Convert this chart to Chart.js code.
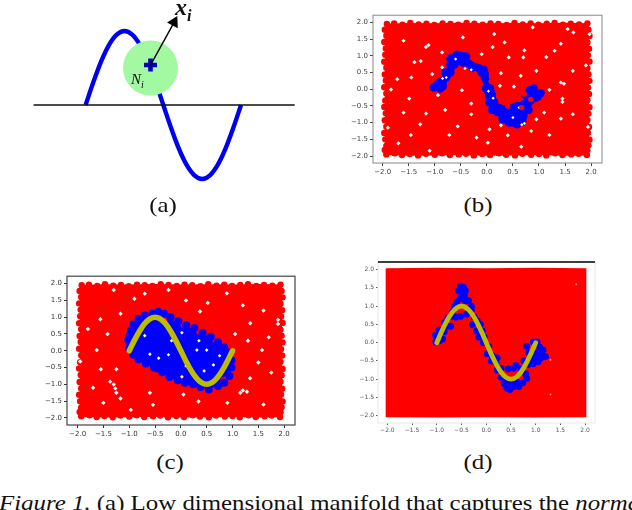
<!DOCTYPE html>
<html><head><meta charset="utf-8">
<script src="https://cdn.jsdelivr.net/npm/chart.js@4"></script>
<style>
html,body{margin:0;padding:0;background:#fff;width:632px;height:510px;overflow:hidden}
canvas{position:absolute}
.plot{filter:blur(.45px)}
.t{position:absolute;font-family:"Liberation Serif",serif;color:#111;white-space:nowrap;line-height:1}
.cap{font-size:22px;transform:translateX(-50%) scaleX(1.13)}
sub{font-size:.68em;line-height:0}
</style></head><body>
<canvas id="pa" class="plot" width="316" height="200" style="left:0;top:0"></canvas>
<canvas id="pb" class="plot"></canvas>
<canvas id="pc" class="plot"></canvas>
<canvas id="pd" class="plot"></canvas>
<div class="t" style="left:175px;top:-5px;font-size:24px;font-weight:bold;font-style:italic">x<sub>i</sub></div>
<div class="t" style="left:131px;top:72px;font-size:15px;font-style:italic">N<sub>i</sub></div>
<div class="t cap" style="left:163px;top:194px">(a)</div>
<div class="t cap" style="left:478px;top:194px">(b)</div>
<div class="t cap" style="left:170px;top:451px">(c)</div>
<div class="t cap" style="left:478px;top:451px">(d)</div>
<div class="t" style="left:-1px;top:492px;font-size:22px;transform:scaleX(1.13);transform-origin:0 0"><i>Figure 1.</i> (a) Low dimensional manifold that captures the <i>normal</i></div>
<script>
const tickValues=[-2,-1.5,-1,-0.5,0,0.5,1,1.5,2];
const tickLabels=["−2.0","−1.5","−1.0","−0.5","0.0","0.5","1.0","1.5","2.0"];
const manifold=[[-1,0],[-.9,.31],[-.8,.59],[-.7,.81],[-.6,.95],[-.5,1],[-.4,.95],[-.3,.81],[-.2,.59],[-.1,.31],[0,0],[.1,-.31],[.2,-.59],[.3,-.81],[.4,-.95],[.5,-1],[.6,-.95],[.7,-.81],[.8,-.59],[.9,-.31],[1,0]];
const baseline=[[-1.664,0],[1.685,0]];
const neighbourhood=[[-.165,.5]];
const sample=[[-.165,.54]];
const arrowShaft=[[-.165,.54],[.13,1.1]];
const arrowHead=[[.138,1.119]];
const redTop=[[-1.96,1.96],[-1.5,1.98],[-1,1.97],[-.5,1.99],[0,1.97],[.5,1.98],[1,1.97],[1.5,1.99],[1.96,1.97]];
const redBottom=[[-1.96,-1.97],[-1.5,-1.99],[-1,-1.98],[-.5,-1.97],[0,-1.99],[.5,-1.98],[1,-1.97],[1.5,-1.99],[1.96,-1.98]];
const redTopD=[[-2.04,2.04],[-1,2.05],[0,2.04],[1,2.05],[2.03,2.04]];
const redBottomD=[[-2.04,-2.04],[-1,-2.05],[0,-2.04],[1,-2.05],[2.03,-2.04]];
const redEdge=[[-1.92,1.95],[-1.78,1.97],[-1.62,1.93],[-1.47,1.98],[-1.31,1.94],[-1.16,1.96],[-1.01,1.92],[-.85,1.97],[-.7,1.95],[-.55,1.93],[-.39,1.98],[-.24,1.96],[-.08,1.93],[.07,1.97],[.22,1.95],[.38,1.92],[.53,1.98],[.69,1.94],[.84,1.97],[.99,1.93],[1.15,1.96],[1.3,1.98],[1.46,1.93],[1.61,1.96],[1.77,1.94],[1.93,1.97],
[-1.93,-1.95],[-1.77,-1.92],[-1.63,-1.97],[-1.48,-1.94],[-1.32,-1.98],[-1.17,-1.93],[-1,-1.96],[-.86,-1.92],[-.71,-1.97],[-.54,-1.95],[-.4,-1.93],[-.25,-1.98],[-.09,-1.94],[.06,-1.97],[.23,-1.92],[.37,-1.96],[.54,-1.98],[.68,-1.93],[.85,-1.96],[1,-1.94],[1.14,-1.98],[1.31,-1.92],[1.45,-1.97],[1.62,-1.95],[1.76,-1.93],[1.92,-1.97],
[-1.96,1.78],[-1.93,1.6],[-1.97,1.41],[-1.94,1.22],[-1.95,1.03],[-1.97,.82],[-1.93,.64],[-1.96,.44],[-1.94,.26],[-1.97,.06],[-1.93,-.13],[-1.95,-.34],[-1.97,-.53],[-1.94,-.72],[-1.96,-.93],[-1.93,-1.12],[-1.97,-1.31],[-1.95,-1.5],[-1.93,-1.69],[-1.96,-1.82],
[1.95,1.78],[1.97,1.59],[1.93,1.4],[1.96,1.21],[1.94,1.02],[1.97,.83],[1.93,.63],[1.95,.45],[1.97,.25],[1.94,.05],[1.96,-.14],[1.93,-.33],[1.97,-.54],[1.95,-.73],[1.93,-.92],[1.96,-1.13],[1.94,-1.3],[1.97,-1.51],[1.95,-1.68],[1.93,-1.83]];
const blueB=[[-1.02,.05],[-.96,.12],[-.9,.02],[-.85,.08],[-.92,.2],[-.84,.25],[-.78,.36],[-.74,.48],[-.8,.5],[-.7,.62],[-.7,.75],[-.66,.86],[-.62,.95],[-.58,1.03],[-.52,1.02],[-.46,.98],[-.42,.9],[-.55,.85],[-.46,.8],[-.62,.74],[-.36,.78],[-.3,.72],[-.22,.66],[-.14,.62],[-.06,.58],[-.28,.65],[-.04,.46],[-.1,.5],[-.04,.34],[0,.22],[.02,.1],[-.02,.02],[.06,.03],[.03,-.08],[.1,-.12],[.04,-.22],[.1,-.28],[.14,-.38],[.05,-.4],[.16,-.5],[.24,-.56],[.2,-.68],[.28,-.72],[.34,-.78],[.38,-.9],[.46,-.88],[.5,-1],[.54,-.88],[.62,-.98],[.68,-.96],[.58,-.72],[.66,-.72],[.72,-.68],[.5,-.55],[.58,-.5],[.7,-.45],[.78,-.5],[.82,-.36],[.75,-.2],[.84,-.18],[.82,-.02],[.9,.02],[.92,-.14],[.98,-.22],[.9,-.32],[1.03,-.12],[.34,-.6],[.44,-.72],[.7,-.82],[.8,-.62],[.62,-.84],[-.5,.88],[-.7,.5],[-.85,.15],[.1,-.62],[-.62,.85],[-.4,.98],[-.7,.92],[.42,-1],[.58,-1.05],[.3,-.9]];
const holesOnBlueB=[[-.42,.62],[-.3,.58],[-.78,.35],[-.85,.32],[.03,-.06],[.62,-.55],[.67,-1.06],[.5,-.85],[.72,-1.02],[-.6,.9],[.12,-.27]];
const redOnBlueB=[[.2,-.05],[.67,-.55],[.84,-.3],[.08,.23],[.4,-.5],[.72,-.15],[.95,-.45]];
const blueCoreC=[[-.75,.6],[-.5,.7],[-.2,.55],[.1,.35],[.4,.15],[.65,-.1],[.75,-.45],[.55,-.75],[.25,-.7],[-.1,-.5],[-.4,-.3],[-.7,0],[-.55,.25],[-.25,.15],[.05,-.05],[.3,-.3],[-.85,.35],[.5,-.35]];
const blueEdgeC=[[-1.02,.32],[-.96,.62],[-.92,.78],[-.82,.95],[-.7,1.05],[-.55,1.12],[-.44,1.16],[-.32,1.1],[-.2,1],[-.05,.88],[.1,.76],[.26,.68],[.42,.54],[.58,.42],[.72,.25],[.84,.1],[.92,-.05],[.98,-.28],[.98,-.5],[.94,-.75],[.84,-.95],[.72,-1.05],[.54,-1.15],[.38,-1.08],[.24,-1],[.08,-.95],[-.06,-.88],[-.22,-.78],[-.36,-.64],[-.52,-.5],[-.68,-.38],[-.82,-.25],[-.92,-.12],[-1,.06]];
const holesOnBlueC=[[.02,.54],[.5,.02],[-.24,-.12],[.63,-.42],[.02,-.77],[-.43,-.22],[.31,.02],[-.6,-.1],[-.18,.3],[.35,.3],[.1,-.45],[-.7,.45],[.75,-.15],[.45,-.6]];
const blueD=[[-1.03,.2],[-1.02,.02],[-.95,.05],[-.92,.28],[-.85,.3],[-.88,.1],[-.78,.45],[-.85,.55],[-.72,.72],[-.78,.68],[-.68,.85],[-.64,1],[-.6,1.1],[-.54,1.2],[-.5,1.35],[-.46,1.52],[-.52,1.55],[-.44,1.3],[-.42,1.15],[-.36,1.15],[-.3,1],[-.3,.9],[-.52,.72],[-.62,.7],[-.24,.7],[-.18,.6],[-.12,.5],[-.2,.32],[-.08,.32],[-.15,.15],[-.04,.15],[-.06,0],[.05,-.1],[.02,-.3],[.12,-.35],[.1,-.5],[.2,-.55],[.22,-.75],[.3,-.7],[.3,-.95],[.36,-1.12],[.42,-1.25],[.48,-1.28],[.56,-1.2],[.66,-1.2],[.74,-1.1],[.44,-.72],[.55,-.7],[.7,-.72],[.8,-.85],[.85,-.6],[.76,-.5],[.9,-.5],[.86,-.28],[.98,-.42],[.82,-.1],[.95,.02],[1.03,.02],[1.08,-.12],[1.12,-.3],[1.1,-.42],[1.02,-.28],[-.5,1.2],[.5,-1.1],[-.56,1.42],[-.42,1.42],[-.6,.98],[-.4,.78],[-.96,.35],[-.72,.45],[.6,-.62],[.42,-1.02],[.62,-1.08],[.82,-.98],[1.15,-.2],[1.2,-.38],[1.05,-.52],[.95,-.58],[-.28,.5],[.22,-.42]];
const holesB=[[-1.17,1.26],[-.86,1.1],[-1.39,.81],[-1.27,.84],[-1.84,-.01],[-1.49,-.28],[-.48,-.03],[-.94,-.18],[-.3,-.43],[-1.17,-.73],[-1.9,-1.15],[-1.46,-1.37],[-.56,-1.11],[-.72,-1.37],[-1.7,-1.62],[-1.1,-1.84],[.02,-1.6],[.27,-1.08],[.66,-1.72],[1.2,-1.37],[1.42,-.88],[1.94,-1.13],[1.45,-.28],[1.45,-.38],[1.2,-.02],[1.42,.2],[1.48,.16],[.27,.48],[.34,1.4],[.14,1.65],[-.46,1.55],[.72,1.16],[1.42,1.36],[1.66,1.7],[1.55,1.8],[1.14,.96],[1.9,.71],[1.97,1.65],[.88,1.85],[.11,1.26],[-1.6,1.45],[-1.05,.45],[-1.6,-.7],[.7,.95],[.95,.55],[1.65,-.75],[-.2,-1.45],[-.86,.65],[-1.12,1.32],[-.1,1.05],[.42,.95],[.65,.4],[.52,.08],[.25,.1],[-.3,-.75],[-.8,-.62],[.95,-.9],[1.1,-.7],[.4,-1.38],[.85,-1.25],[-1.45,.35],[-1.72,.3],[1.65,.55],[1.3,1.15],[.05,-1.2],[-1.28,-1.05]];
const holesC=[[-1.17,1.1],[-1.56,.94],[-1.8,.65],[-1.63,.02],[-1.95,-.32],[-1.27,-1.12],[-1.17,-1.42],[-1.37,-.92],[-.97,-1.76],[-.54,-1.61],[.34,-1.51],[1.15,-1.25],[1.28,-1.22],[1.34,-.82],[1.88,.92],[1.88,.8],[1.57,.02],[-1.3,1.81],[-.24,1.81],[.89,1.71],[1.34,.82],[.37,1.17],[.52,1.42],[-1.55,-.55],[-1.25,-.55],[1.6,-1.6],[.9,-1.55],[1.7,.4],[1.05,.5],[-1.25,-1.25],[-1.3,-1],[1.2,-1.18],[-1.42,.5],[-.9,1.55],[.1,1.5],[1.2,1.35],[1.6,1.2],[-1.7,-1.1],[-.6,-1.25],[.05,-1.3],[1.5,-.35],[1.75,-.65],[-1.5,-1.55],[1.3,.3],[-.7,1.7]];
const holesD=[[1.3,-.47],[1.3,-1.42],[1.82,1.6]];

const pts=a=>a.map(([x,y])=>({x,y}));
const dot=(data,color,radius,order,style)=>({data:pts(data),backgroundColor:color,borderColor:color,borderWidth:0,pointRadius:radius,pointStyle:style||'circle',showLine:false,order});
const curve=(data,color,width,order)=>({data:pts(data),borderColor:color,borderWidth:width,pointRadius:0,showLine:true,tension:.35,borderCapStyle:'round',order});
const band=(data,fill)=>({data:pts(data),borderWidth:0,pointRadius:0,showLine:true,fill,backgroundColor:'#ff0000',order:20});

new Chart(document.getElementById('pa'),{type:'scatter',data:{datasets:[
  {...curve(manifold,'#0000f0',4.4,6),borderCapStyle:'butt'},
  {...curve(baseline,'#111',1.3,5),tension:0},
  dot(neighbourhood,'#a2f9a2',27.5,4),
  {...curve(arrowShaft,'#000',1.4,2),tension:0},
  {data:pts(arrowHead),backgroundColor:'#000',borderWidth:0,pointStyle:'triangle',pointRotation:28,pointRadius:7,showLine:false,order:1},
  {data:pts(sample),borderColor:'#0000b8',backgroundColor:'#0000b8',borderWidth:4.6,pointStyle:'cross',pointRadius:6.5,showLine:false,order:3}
]},options:{responsive:false,animation:false,events:[],layout:{padding:0,autoPadding:false},plugins:{legend:{display:false},tooltip:{enabled:false}},
  scales:{x:{type:'linear',display:false,min:-2.102,max:1.965},y:{type:'linear',display:false,min:-1.284,max:1.419}}}});

const frame={id:'frame',afterDraw(c,_,o){const a=c.chartArea,g=c.ctx;g.save();
  if(o.mode==='box'){g.strokeStyle=o.color;g.lineWidth=o.width;g.strokeRect(a.left,a.top,a.width,a.height);}
  else{g.strokeStyle='#ececec';g.lineWidth=1.2;g.strokeRect(a.left,a.top,a.width,a.height);g.strokeStyle='#000';g.lineWidth=1.6;g.beginPath();g.moveTo(a.left,a.top);g.lineTo(a.right,a.top);g.stroke();}
  g.restore();}};

function plot(id,box,range,fontSize,tickColor,frameOpt,datasets,tickMark){
  const cv=document.getElementById(id),gl=34,gb=18,gr=8,gt=6;
  cv.width=box.r-box.l+gl+gr;cv.height=box.b-box.t+gb+gt;
  cv.style.left=(box.l-gl)+'px';cv.style.top=(box.t-gt)+'px';
  const axis=(r,fit)=>({type:'linear',min:r[0],max:r[1],
    afterBuildTicks:s=>{s.ticks=tickValues.map(value=>({value}));},
    afterFit:fit,
    ticks:{autoSkip:false,maxRotation:0,padding:2,color:tickColor,font:{family:'DejaVu Sans',size:fontSize},
      callback:v=>tickLabels[tickValues.indexOf(v)]},
    border:{display:false},
    grid:{display:true,drawOnChartArea:false,drawTicks:true,tickLength:tickMark,tickColor:tickColor}});
  new Chart(cv,{type:'scatter',data:{datasets},plugins:[frame],options:{responsive:false,animation:false,events:[],
    layout:{autoPadding:false,padding:{top:gt,right:gr,left:0,bottom:0}},
    plugins:{legend:{display:false},tooltip:{enabled:false},frame:frameOpt},
    scales:{x:axis(range.x,s=>{s.height=gb;}),y:axis(range.y,s=>{s.width=gl;})}}});
}

plot('pb',{l:373,t:15,r:602,b:163},{x:[-2.186,2.21],y:[-2.208,2.214]},7,'#444',{mode:'box',color:'#888',width:1},[
  band(redBottom,false),band(redTop,'-1'),
  dot(redEdge,'#ff0000',3.2,19),
  dot(holesB,'#fff',2.1,18,'rectRot'),
  dot(blueB,'#0000ff',4.2,10),
  dot(holesOnBlueB,'#fff',1.6,9,'rectRot'),
  dot(redOnBlueB,'#ff0000',2.6,8)
],3);

plot('pc',{l:67,t:276,r:295,b:425},{x:[-2.205,2.21],y:[-2.21,2.22]},7,'#333',{mode:'box',color:'#444',width:1.2},[
  band(redBottom,false),band(redTop,'-1'),
  dot(redEdge,'#ff0000',3.2,19),
  dot(holesC,'#fff',2.2,18,'rectRot'),
  dot(blueCoreC,'#0000ff',12,11),
  dot(blueEdgeC,'#0000ff',4,10),
  dot(holesOnBlueC,'#fff',1.8,9,'rectRot'),
  curve(manifold,'#bdbd00',5.5,1)
],3);

plot('pd',{l:378,t:262,r:595,b:423},{x:[-2.19,2.2],y:[-2.2,2.21]},6,'#555',{mode:'d'},[
  band(redBottomD,false),band(redTopD,'-1'),
  dot(blueD,'#0000ff',3.4,10),
  dot(holesD,'#ff9a9a',.9,9),
  curve(manifold,'#bdbd00',4.8,1)
],2);
</script>
</body></html>
